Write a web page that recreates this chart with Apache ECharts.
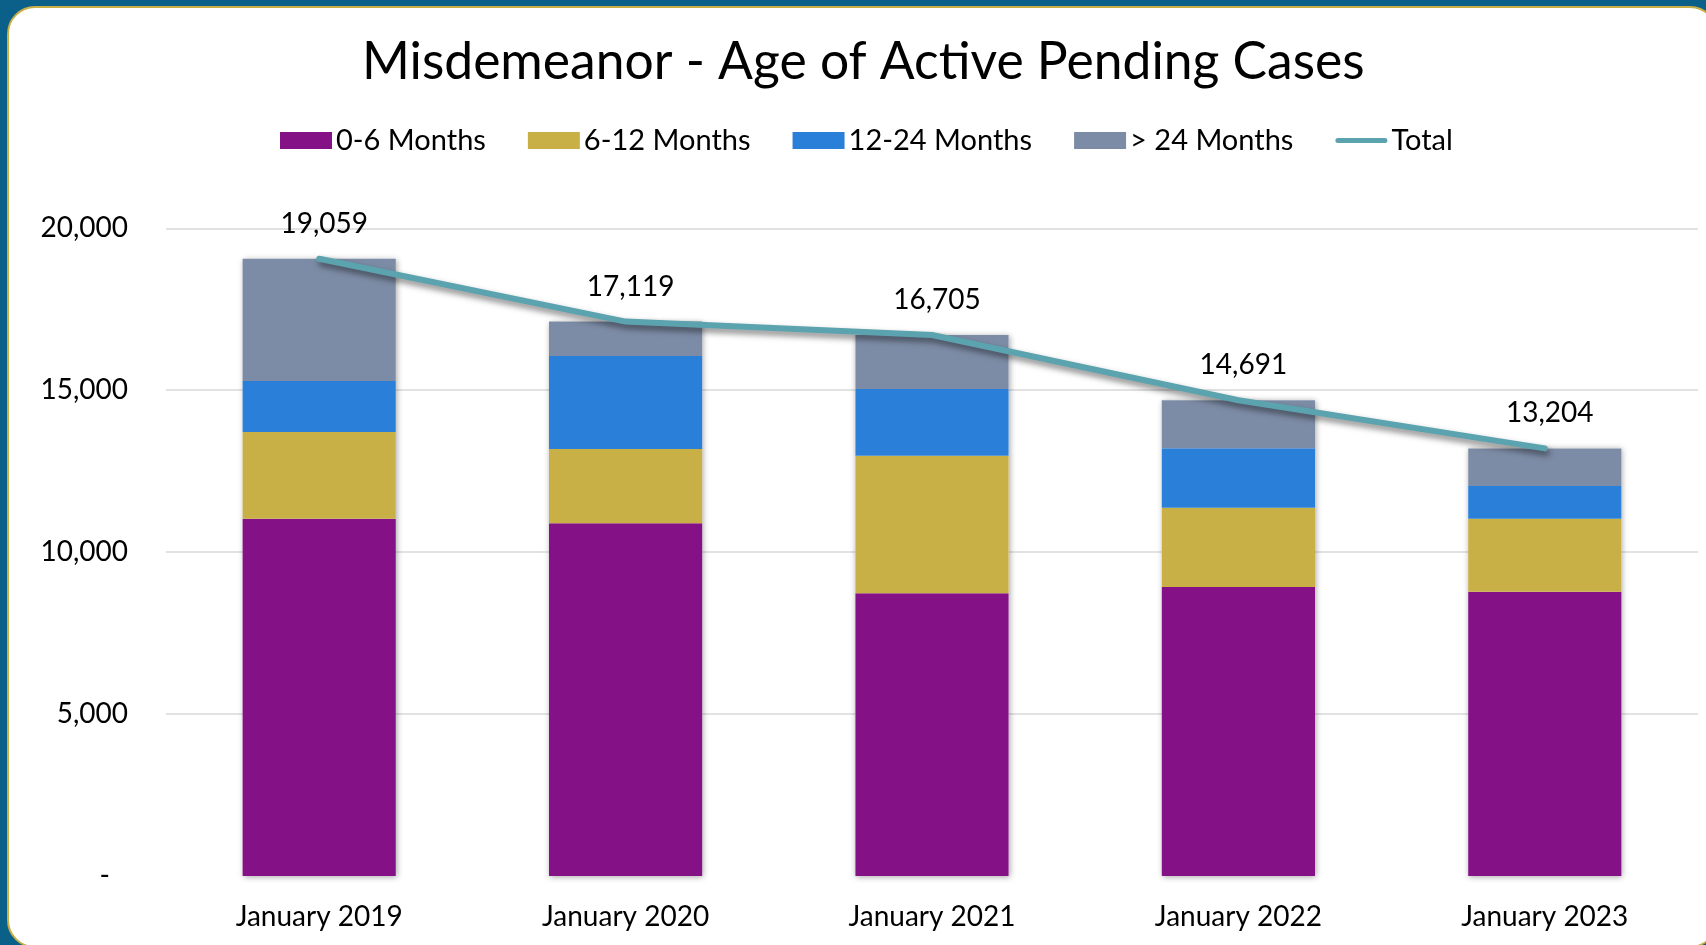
<!DOCTYPE html>
<html>
<head>
<meta charset="utf-8">
<script src="https://cdn.jsdelivr.net/npm/echarts@6/dist/echarts.min.js"></script>
<style>
  html, body { margin: 0; padding: 0; width: 1706px; height: 945px; overflow: hidden; background: #0B6089; }
  #panel { position: absolute; left: 7px; top: 6px; width: 1711px; height: 942px; box-sizing: border-box;
           border: 2px solid #C9B046; border-radius: 28px; background: #ffffff; }
  #chart { position: absolute; left: 0; top: 0; width: 1706px; height: 945px; }
</style>
</head>
<body>
<div id="panel"></div>
<div id="chart"></div>
<script>
const categories = ['January 2019', 'January 2020', 'January 2021', 'January 2022', 'January 2023'];
const months0to6 = [11030, 10890, 8730, 8925, 8780];
const months6to12 = [2680, 2295, 4250, 2445, 2255];
const months12to24 = [1575, 2870, 2060, 1835, 1010];
const monthsOver24 = [3774, 1064, 1665, 1486, 1159];
const totals = [19059, 17119, 16705, 14691, 13204];
const yTicks = [0, 5000, 10000, 15000, 20000];

const FONT = 'Lato, "Open Sans", sans-serif';
const fmt = v => v.toLocaleString('en-US');

const chart = echarts.init(document.getElementById('chart'), null, { renderer: 'canvas' });

function stackBar(name, data, color) {
  return {
    name: name, type: 'bar', stack: 'age', data: data,
    barWidth: '50%', barGap: '-100%',
    itemStyle: { color: color },
    emphasis: { disabled: true },
    z: 3
  };
}

const lineIcon = 'path://M2.5,0 L49.5,0 A2.5,2.5 0 0 1 49.5,5 L2.5,5 A2.5,2.5 0 0 1 2.5,0 Z';

chart.setOption({
  animation: false,
  textStyle: { fontFamily: FONT, color: '#000' },
  title: {
    text: 'Misdemeanor - Age of Active Pending Cases',
    left: 357, top: 31,
    textStyle: { fontFamily: FONT, fontSize: 51.6, fontWeight: 'normal', color: '#000' }
  },
  legend: {
    top: 121, left: 275,
    itemWidth: 52, itemHeight: 17, itemGap: 42,
    symbolKeepAspect: true,
    textStyle: { fontFamily: FONT, fontSize: 29, color: '#000', padding: [0, 0, 0, -1] },
    data: [
      { name: '0-6 Months', icon: 'rect' },
      { name: '6-12 Months', icon: 'rect' },
      { name: '12-24 Months', icon: 'rect' },
      { name: '> 24 Months', icon: 'rect' },
      { name: 'Total', icon: lineIcon, itemStyle: { color: '#5BA3AE' } }
    ]
  },
  grid: { left: 166, right: 8, top: 228.3, bottom: 69, containLabel: false },
  xAxis: {
    type: 'category', data: categories,
    axisLine: { show: false }, axisTick: { show: false },
    axisLabel: { fontFamily: FONT, fontSize: 28, color: '#000', margin: 27 }
  },
  yAxis: {
    type: 'value', min: yTicks[0], max: yTicks[yTicks.length - 1], interval: yTicks[1] - yTicks[0],
    axisLine: { show: false }, axisTick: { show: false },
    splitLine: { show: true, showMinLine: false, lineStyle: { color: '#D9D9D9', width: 1.5 } },
    axisLabel: {
      fontFamily: FONT, fontSize: 28, color: '#000', margin: 38,
      formatter: v => v === 0 ? '{d|-}' : fmt(v),
      rich: { d: { fontFamily: FONT, fontSize: 28, color: '#000', padding: [0, 18, 0, 0] } }
    }
  },
  series: [
    {
      name: 'shadow', type: 'bar', data: totals, barWidth: '50%', barGap: '-100%',
      itemStyle: { color: '#ffffff', shadowBlur: 6, shadowColor: 'rgba(0,0,0,0.35)', shadowOffsetX: 1, shadowOffsetY: 1 },
      silent: true, z: 2, emphasis: { disabled: true }
    },
    stackBar('0-6 Months', months0to6, '#841185'),
    stackBar('6-12 Months', months6to12, '#C9B046'),
    stackBar('12-24 Months', months12to24, '#2A7FD8'),
    stackBar('> 24 Months', monthsOver24, '#7D8CA6'),
    {
      name: 'Total', type: 'line', data: totals, symbol: 'circle', symbolSize: 0, showSymbol: true, z: 5,
      lineStyle: { color: '#5BA3AE', width: 6, cap: 'round', join: 'round',
                   shadowColor: 'rgba(0,0,0,0.5)', shadowBlur: 6, shadowOffsetX: 2, shadowOffsetY: 4 },
      itemStyle: { color: '#5BA3AE' },
      label: { show: true, position: 'top', distance: 21, offset: [5, 0], fontFamily: FONT, fontSize: 28, color: '#000',
               formatter: p => fmt(p.value) },
      emphasis: { disabled: true }
    }
  ]
});
</script>
</body>
</html>
